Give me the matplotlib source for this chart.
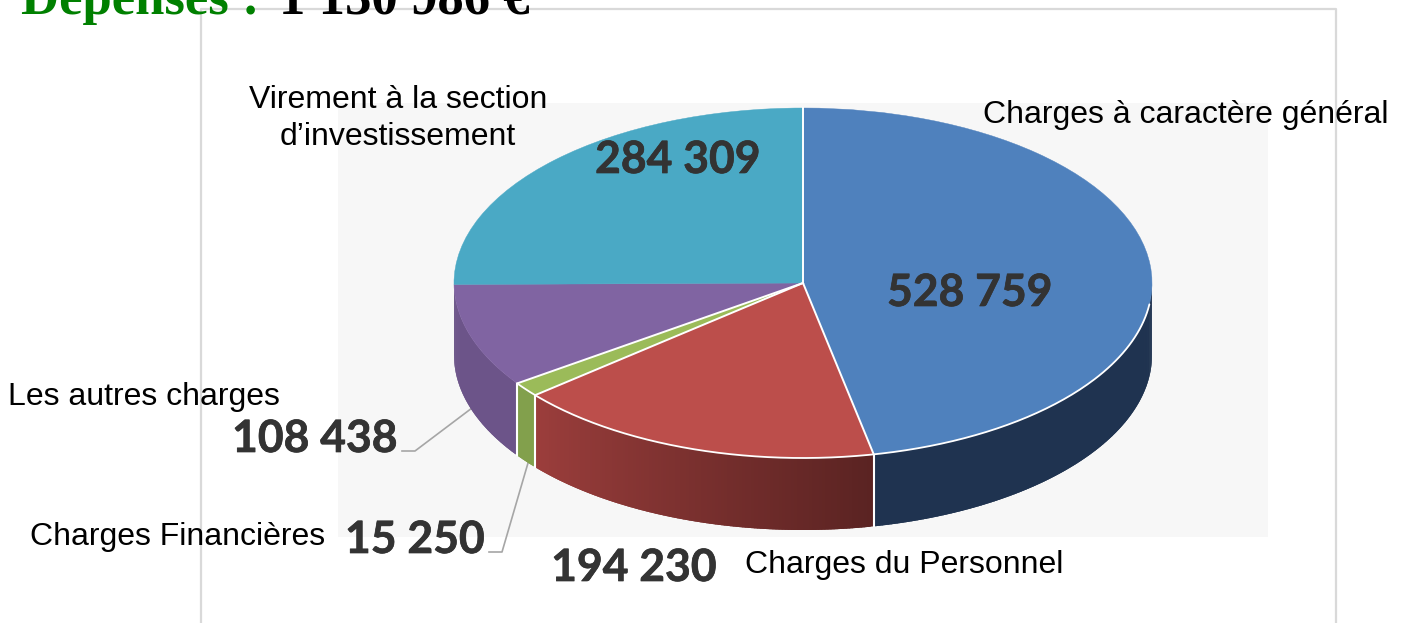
import numpy as np
import matplotlib
matplotlib.use("Agg")
import matplotlib.pyplot as plt
import matplotlib.patheffects as pe
from matplotlib.patches import Wedge, Polygon, Rectangle
from matplotlib.transforms import Affine2D
from matplotlib.colors import to_rgb

categories = ["Charges à caractère général", "Charges du Personnel", "Charges Financières",
              "Les autres charges", "Virement à la section\nd’investissement"]
values = [528759, 194230, 15250, 108438, 284309]
value_labels = ["528 759", "194 230", "15 250", "108 438", "284 309"]

top_colors = ["#4f81bd", "#bc4e4b", "#9bbb59", "#8064a2", "#4aa9c5"]
# wall colour at the clockwise end and at the clockwise start of each slice
wall_from = ["#1f3350", "#5a2322", "#82a04c", "#6c5489", "#6c5489"]
wall_to = ["#1f3350", "#9c3e3c", "#82a04c", "#6c5489", "#6c5489"]

CX, CY, RX, RY, DEPTH = 803, 283, 349, 175, 72

fig = plt.figure(figsize=(14.04, 6.23), dpi=100)
ax = fig.add_axes([0, 0, 1, 1])
ax.set_xlim(0, 1404)
ax.set_ylim(623, 0)
ax.axis("off")

ax.add_patch(Rectangle((338, 103), 930, 434, fc="#f7f7f7", ec="none", zorder=1))
ax.plot([201, 201, 1336, 1336], [623, 8.5, 8.5, 623], color="#d9d9d9", lw=1.6, zorder=1.5)

fractions = np.array(values) / sum(values)
edges = np.concatenate([[0], np.cumsum(fractions)]) * 360  # clockwise from top


def px(a):
    return CX + RX * np.sin(np.radians(a))


def py(a):
    return CY - RY * np.cos(np.radians(a))


# side walls, visible on the front half only (90..270 deg clockwise from top)
for i, (a0, a1) in enumerate(zip(edges[:-1], edges[1:])):
    lo, hi = max(a0, 90), min(a1, 270)
    if lo >= hi:
        continue
    n = max(int((hi - lo) * 2), 4)
    c0, c1 = np.array(to_rgb(wall_from[i])), np.array(to_rgb(wall_to[i]))
    grid = np.linspace(lo, hi, n + 1)
    for k in range(n):
        t = (k + 0.5) / n
        col = c0 + (c1 - c0) * t
        end = min(grid[k + 1] + 0.6, hi)  # slight overlap hides seams
        aa = np.linspace(grid[k], end, 4)
        xs, ys = px(aa), py(aa)
        pts = np.column_stack([np.r_[xs, xs[::-1]], np.r_[ys, ys[::-1] + DEPTH]])
        ax.add_patch(Polygon(pts, closed=True, fc=col, ec="none", zorder=2))

# top faces
face = Affine2D().scale(RX, -RY).translate(CX, CY) + ax.transData
for i, (a0, a1) in enumerate(zip(edges[:-1], edges[1:])):
    ax.add_patch(Wedge((0, 0), 1, 90 - a1, 90 - a0, fc=top_colors[i], ec=top_colors[i], lw=0.3,
                       transform=face, zorder=3))

# white separators: radii and front rim of the first three slices
rim = np.linspace(97, edges[3], 200)
ax.plot(px(rim), py(rim), color="white", lw=1.3, zorder=4, solid_capstyle="round")
for a in edges[:4]:
    ax.plot([CX, px(a)], [CY, py(a)], color="white", lw=1.4, zorder=4)
    if 90 < a < 270:
        ax.plot([px(a), px(a)], [py(a), py(a) + DEPTH], color="white", lw=1.5, zorder=2.5)

# leader lines
ax.plot([402, 415, 472], [451, 451, 408], color="#a6a6a6", lw=1.2, zorder=1.8)
ax.plot([489, 502, 528], [552, 552, 463], color="#a6a6a6", lw=1.2, zorder=1.8)

label_font = dict(family="Liberation Sans", fontsize=23, color="black", zorder=5)
value_font = dict(family="Lato", fontweight="bold", fontsize=32, color="#333333", zorder=5,
                  ha="center", va="center",
                  path_effects=[pe.withStroke(linewidth=0.5, foreground="#333333")])

ax.text(983, 115, categories[0], ha="left", va="center", **label_font)
ax.text(745, 565, categories[1], ha="left", va="center", **label_font)
ax.text(30, 537, categories[2], ha="left", va="center", **label_font)
ax.text(8, 397, categories[3], ha="left", va="center", **label_font)
first, second = categories[4].split("\n")
ax.text(398, 100, first, ha="center", va="center", **label_font)
ax.text(398, 137, second, ha="center", va="center", **label_font)

for lab, (x, y) in zip(value_labels, [(970, 293), (634, 568), (415, 540), (315, 439), (678, 160)]):
    ax.text(x, y, lab, **value_font)

title_font = dict(family="Liberation Serif", fontweight="bold", fontsize=38, va="baseline", zorder=6)
ax.text(21, 14, "Dépenses :", color="#008000", ha="left", **title_font)
ax.text(279, 14, "1 130 986 €", color="black", ha="left", **title_font)

fig.savefig("out.png", dpi=100, facecolor="white")
